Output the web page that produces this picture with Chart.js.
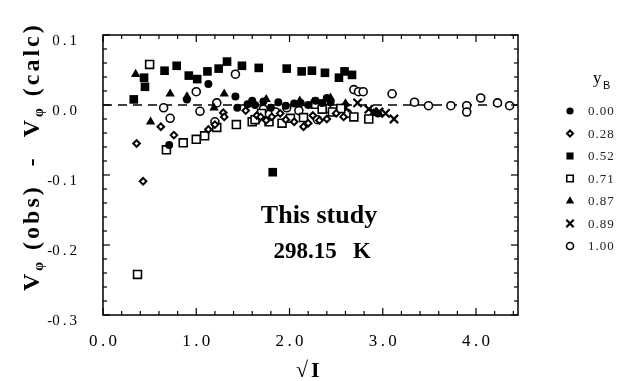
<!DOCTYPE html>
<html>
<head>
<meta charset="utf-8">
<script src="https://cdn.jsdelivr.net/npm/chart.js@4.4.1/dist/chart.umd.min.js"></script>
<style>
  html, body { margin: 0; padding: 0; background: #fff; }
  #wrap { width: 630px; height: 381px; }
</style>
</head>
<body>
<div id="wrap"><canvas id="chart" width="630" height="381"></canvas></div>
<script>
// y_B series labels
const seriesLabels = ['0.00', '0.28', '0.52', '0.71', '0.87', '0.89', '1.00'];

// sqrt(I) and V_phi(obs) - V_phi(calc)
const x000 = [0.71, 0.90, 1.13, 1.42, 1.44, 1.55, 1.60, 1.63, 1.72, 1.80, 1.88, 1.96, 2.05, 2.12, 2.20, 2.28, 2.35, 2.40, 2.44, 2.95];
const y000 = [-0.057, 0.008, 0.030, 0.012, -0.004, 0.001, 0.006, 0.000, 0.005, -0.004, 0.004, -0.001, 0.002, 0.003, 0.000, 0.006, 0.003, 0.010, 0.004, -0.012];

const x028 = [0.36, 0.43, 0.62, 0.76, 1.13, 1.20, 1.29, 1.30, 1.53, 1.65, 1.69, 1.75, 1.81, 1.90, 1.96, 2.05, 2.15, 2.20, 2.25, 2.32, 2.40, 2.50, 2.58];
const y028 = [-0.055, -0.109, -0.031, -0.043, -0.035, -0.028, -0.011, -0.017, -0.008, -0.015, -0.017, -0.022, -0.017, -0.012, -0.021, -0.024, -0.031, -0.026, -0.015, -0.022, -0.020, -0.012, -0.017];

const x052 = [0.33, 0.44, 0.45, 0.66, 0.79, 0.92, 1.01, 1.12, 1.24, 1.33, 1.49, 1.67, 1.82, 1.97, 2.13, 2.24, 2.38, 2.53, 2.59, 2.67];
const y052 = [0.008, 0.039, 0.026, 0.049, 0.056, 0.042, 0.037, 0.048, 0.052, 0.062, 0.056, 0.053, -0.096, 0.052, 0.048, 0.049, 0.046, 0.039, 0.048, 0.043];

const x071 = [0.37, 0.50, 0.68, 0.86, 1.00, 1.09, 1.22, 1.43, 1.60, 1.63, 1.70, 1.78, 1.92, 2.01, 2.15, 2.28, 2.35, 2.46, 2.55, 2.69, 2.85];
const y071 = [-0.242, 0.058, -0.064, -0.054, -0.049, -0.044, -0.032, -0.028, -0.024, -0.021, -0.012, -0.024, -0.026, -0.019, -0.018, 0.001, -0.006, -0.010, -0.005, -0.017, -0.020];

const x087 = [0.35, 0.51, 0.72, 0.90, 1.19, 1.30, 1.75, 2.11, 2.25, 2.44, 2.60, 2.90];
const y087 = [0.044, -0.024, 0.016, 0.012, -0.004, 0.016, 0.008, 0.006, 0.004, 0.010, 0.002, -0.012];

const x089 = [2.60, 2.73, 2.85, 2.90, 2.96, 3.03, 3.12];
const y089 = [-0.004, 0.003, -0.006, -0.010, -0.010, -0.012, -0.020];

const x100 = [0.65, 0.72, 1.00, 1.04, 1.20, 1.22, 1.42, 1.65, 1.72, 1.85, 1.97, 2.10, 2.30, 2.40, 2.62, 2.69, 2.74, 2.79, 3.10, 3.34, 3.49, 3.73, 3.90, 3.90, 4.05, 4.23, 4.36];
const y100 = [-0.004, -0.019, 0.019, -0.009, -0.024, 0.003, 0.044, -0.020, -0.006, -0.010, -0.004, -0.008, -0.021, -0.005, -0.012, 0.022, 0.019, 0.019, 0.016, 0.004, -0.001, -0.001, -0.001, -0.010, 0.010, 0.003, -0.001];

// dashed zero line
const zeroX = [0, 4.45];
const zeroY = [0, 0];

const xTicks = [0, 1, 2, 3, 4];
const yTicks = [-0.3, -0.2, -0.1, 0.0, 0.1];

const pts = (xs, ys) => xs.map((v, i) => ({ x: v, y: ys[i] }));

const SERIF = '"Liberation Serif", "DejaVu Serif", serif';
const fmt = v => v.toFixed(1).replace('.', '\u2009.\u2009');

const markers = [
  { pointStyle: 'circle',   radius: 4,   fill: '#000', bw: 0,   lr: 3.6 },
  { pointStyle: 'rectRot',  radius: 3.3, fill: '#fff', bw: 2,   lr: 3.0 },
  { pointStyle: 'rect',     radius: 6.1, fill: '#000', bw: 0,   lr: 5.0 },
  { pointStyle: 'rect',     radius: 5.6, fill: '#fff', bw: 1.6, lr: 4.6 },
  { pointStyle: 'triangle', radius: 5.4, fill: '#000', bw: 0,   lr: 4.8 },
  { pointStyle: 'crossRot', radius: 5.8, fill: '#000', bw: 2.2, lr: 5.2 },
  { pointStyle: 'circle',   radius: 4,   fill: '#fff', bw: 1.6, lr: 3.5 },
];

const seriesData = [
  pts(x000, y000), pts(x028, y028), pts(x052, y052), pts(x071, y071),
  pts(x087, y087), pts(x089, y089), pts(x100, y100)
];

const datasets = seriesData.map((d, i) => ({
  label: seriesLabels[i],
  data: d,
  pointStyle: markers[i].pointStyle,
  pointRadius: markers[i].radius,
  pointBackgroundColor: markers[i].fill,
  pointBorderColor: '#000',
  pointBorderWidth: markers[i].bw,
  order: 1
}));

datasets.push({
  label: 'zero',
  data: pts(zeroX, zeroY),
  showLine: true,
  borderColor: '#000',
  borderWidth: 1.4,
  borderDash: [9, 6],
  pointRadius: 0,
  order: 10
});

// frame, inward ticks, axis titles, annotation and legend
const decorations = {
  id: 'decorations',
  afterDatasetsDraw(chart) {
    const { ctx, chartArea: a, scales: { x, y } } = chart;
    ctx.save();
    ctx.strokeStyle = '#000';
    ctx.lineWidth = 1.5;
    ctx.strokeRect(a.left, a.top, a.right - a.left, a.bottom - a.top);

    ctx.lineWidth = 1.2;
    const seg = (x1, y1, x2, y2) => { ctx.beginPath(); ctx.moveTo(x1, y1); ctx.lineTo(x2, y2); ctx.stroke(); };
    for (let i = 0; i * 0.2 <= x.max + 1e-9; i++) {
      const px = x.getPixelForValue(i * 0.2);
      const len = i % 5 === 0 ? 7 : 4;
      seg(px, a.bottom, px, a.bottom - len);
      seg(px, a.top, px, a.top + len);
    }
    for (let i = -15; i <= 5; i++) {
      const py = y.getPixelForValue(i * 0.02);
      const len = i % 5 === 0 ? 7 : 4;
      seg(a.left, py, a.left + len, py);
      seg(a.right, py, a.right - len, py);
    }

    ctx.fillStyle = '#000';
    // in-plot annotation
    ctx.textAlign = 'center';
    ctx.textBaseline = 'alphabetic';
    ctx.font = 'bold 26px ' + SERIF;
    ctx.fillText('This study', 319, 223);
    ctx.font = 'bold 23px ' + SERIF;
    ctx.fillText('298.15', 305, 258);
    ctx.fillText('K', 362, 258);

    // x axis title
    ctx.textAlign = 'left';
    ctx.font = '22px ' + SERIF;
    ctx.fillText('\u221A', 296, 377);
    ctx.font = 'bold 22px ' + SERIF;
    ctx.fillText('I', 311, 377);

    // y axis title, rotated
    ctx.save();
    ctx.translate(33, 291);
    ctx.rotate(-Math.PI / 2);
    ctx.textBaseline = 'middle';
    ctx.textAlign = 'left';
    ctx.letterSpacing = '3px';
    const runs = [
      { t: 'V', f: 'bold 24px ', dy: 0 },
      { t: '\u03C6', f: 'bold 14px ', dy: 6 },
      { t: ' (obs)  -  ', f: 'bold 24px ', dy: 0 },
      { t: 'V', f: 'bold 24px ', dy: 0 },
      { t: '\u03C6', f: 'bold 14px ', dy: 6 },
      { t: ' (calc)', f: 'bold 24px ', dy: 0 },
    ];
    let u = 0;
    runs.forEach(r => {
      ctx.font = r.f + SERIF;
      ctx.fillText(r.t, u, r.dy);
      u += ctx.measureText(r.t).width;
    });
    ctx.restore();

    // legend
    ctx.textBaseline = 'alphabetic';
    ctx.textAlign = 'left';
    ctx.font = '17px ' + SERIF;
    ctx.fillText('y', 593, 83);
    ctx.font = '11px "Liberation Sans", sans-serif';
    ctx.fillText('B', 603, 89);
    ctx.font = '13px ' + SERIF;
    ctx.letterSpacing = '1px';
    ctx.textBaseline = 'middle';
    seriesLabels.forEach((lab, i) => {
      const ry = 111 + i * 22.5;
      const m = markers[i];
      ctx.fillStyle = m.fill;
      ctx.strokeStyle = '#000';
      ctx.lineWidth = m.bw;
      Chart.helpers.drawPoint(ctx, { pointStyle: m.pointStyle, radius: m.lr, borderWidth: m.bw, rotation: 0 }, 570, ry);
      ctx.fillStyle = '#222';
      ctx.fillText(lab, 588, ry + 1);
    });
    ctx.restore();
  }
};

new Chart(document.getElementById('chart'), {
  type: 'scatter',
  data: { datasets },
  options: {
    responsive: false,
    animation: false,
    devicePixelRatio: 1,
    layout: { padding: { left: 0, right: 112, top: 18, bottom: 0 } },
    plugins: { legend: { display: false }, tooltip: { enabled: false } },
    scales: {
      x: {
        type: 'linear',
        min: 0,
        max: 4.45,
        afterFit: s => { s.height = 66; },
        afterBuildTicks: s => { s.ticks = xTicks.map(v => ({ value: v })); },
        grid: { display: false, drawTicks: false },
        border: { display: false },
        ticks: {
          padding: 16,
          color: '#000',
          font: { family: SERIF, size: 17 },
          callback: v => fmt(v)
        }
      },
      y: {
        type: 'linear',
        min: -0.3,
        max: 0.1,
        afterFit: s => { s.width = 103; },
        afterBuildTicks: s => { s.ticks = yTicks.map(v => ({ value: v })); },
        grid: { display: false, drawTicks: false },
        border: { display: false },
        ticks: {
          padding: 26,
          color: '#000',
          labelOffset: 6,
          font: { family: SERIF, size: 15 },
          callback: v => fmt(v)
        }
      }
    }
  },
  plugins: [decorations]
});
</script>
</body>
</html>
